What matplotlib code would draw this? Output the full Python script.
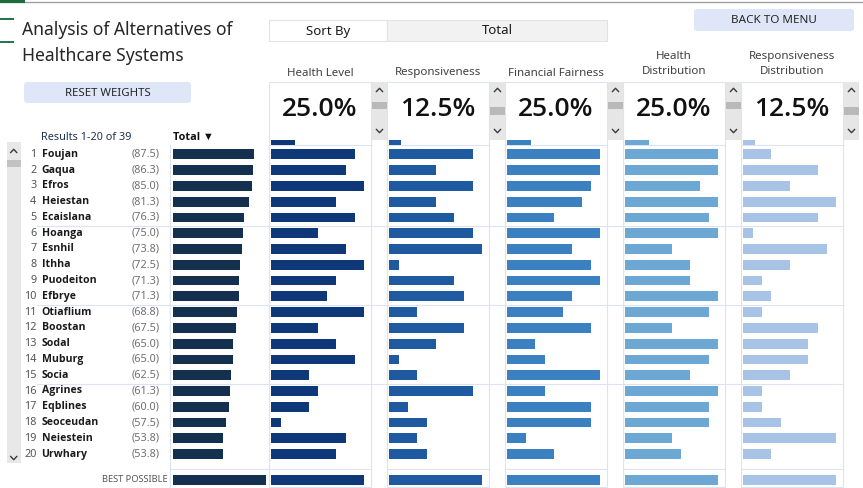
import numpy as np
import matplotlib.pyplot as plt
from matplotlib.patches import Rectangle, FancyBboxPatch

W, H = 863, 488
plt.rcParams['font.family'] = ['Noto Sans', 'DejaVu Sans']
BOLD_FONT = ['Open Sans', 'Liberation Sans', 'DejaVu Sans']

# data (scores 0-10 per criterion, total 0-100)
names = ['Foujan', 'Gaqua', 'Efros', 'Heiestan', 'Ecaislana', 'Hoanga', 'Esnhil', 'Ithha',
         'Puodeiton', 'Efbrye', 'Otiaflium', 'Boostan', 'Sodal', 'Muburg', 'Socia',
         'Agrines', 'Eqblines', 'Seoceudan', 'Neiestein', 'Urwhary']
totals = [87.5, 86.3, 85.0, 81.3, 76.3, 75.0, 73.8, 72.5, 71.3, 71.3,
          68.8, 67.5, 65.0, 65.0, 62.5, 61.3, 60.0, 57.5, 53.8, 53.8]
criteria = ['Health Level', 'Responsiveness', 'Financial Fairness',
            'Health\nDistribution', 'Responsiveness\nDistribution']
weights = [25.0, 12.5, 25.0, 25.0, 12.5]
health_level = [9, 8, 10, 7, 9, 5, 8, 10, 7, 6, 10, 5, 7, 9, 4, 5, 4, 1, 8, 7]
responsiveness = [9, 5, 9, 5, 7, 9, 10, 1, 7, 8, 3, 8, 5, 1, 3, 9, 2, 4, 3, 4]
financial_fairness = [10, 10, 9, 8, 5, 10, 7, 9, 10, 7, 6, 9, 3, 4, 10, 4, 9, 9, 2, 5]
health_distribution = [10, 10, 8, 10, 9, 10, 5, 7, 7, 10, 9, 5, 10, 9, 7, 10, 9, 9, 5, 6]
resp_distribution = [3, 8, 5, 10, 8, 1, 9, 5, 2, 3, 2, 8, 7, 7, 5, 2, 2, 4, 10, 3]
scores = [health_level, responsiveness, financial_fairness, health_distribution, resp_distribution]
best_total = 100
best_score = 10
total_results = 39

TOTAL_COLOR = '#13304f'
COL_COLORS = ['#0e3877', '#1f5aa0', '#3b80c1', '#6da7d3', '#a7c4e6']
GRID = '#dce4f4'

# layout in pixels
ROW0 = 154.3
PITCH = 15.78
BEST_ROW = 20.62
BAR_H = 0.62
COL_X = [269, 387, 505, 623, 741]
BOX_W = 102
BAR_SPAN = 93
AX_TOP, AX_BOT = 138, 488

fig = plt.figure(figsize=(W / 100, H / 100), dpi=100)
bg = fig.add_axes([0, 0, 1, 1])
bg.set_xlim(0, W)
bg.set_ylim(H, 0)
bg.axis('off')


def px_axes(x0, w):
    ax = fig.add_axes([x0 / W, 1 - AX_BOT / H, w / W, (AX_BOT - AX_TOP) / H])
    ax.set_ylim((AX_BOT - ROW0) / PITCH, (AX_TOP - ROW0) / PITCH)
    ax.axis('off')
    ax.patch.set_alpha(0)
    return ax


def row_y(i):
    return ROW0 + PITCH * i


def chevron(x, y, up):
    d = -1 if up else 1
    bg.plot([x - 3.2, x, x + 3.2], [y - 1.7 * d, y + 1.7 * d, y - 1.7 * d],
            color='#3a3a3a', lw=1.0, solid_capstyle='round', zorder=3)


# top strip
bg.plot([0, W], [1.5, 1.5], color='#a0a0a0', lw=1)
bg.plot([0, 23], [1.2, 1.2], color='#1e6b3c', lw=2.2)
for yy in (19.3, 41.7):
    bg.plot([0, 13], [yy, yy], color='#217346', lw=1.4)

# title and buttons
bg.text(22, 30, 'Analysis of Alternatives of', fontsize=12.6, color='#262626', va='center')
bg.text(22, 56, 'Healthcare Systems', fontsize=12.6, color='#262626', va='center')
bg.add_patch(FancyBboxPatch((24, 82), 167, 21, boxstyle='round,pad=0,rounding_size=3',
                            fc='#dee6f7', ec='none'))
bg.text(107.5, 93, 'RESET WEIGHTS', fontsize=8.2, color='#262626', ha='center', va='center')
bg.add_patch(FancyBboxPatch((694, 9), 160, 22, boxstyle='round,pad=0,rounding_size=3',
                            fc='#dee6f7', ec='none'))
bg.text(774, 20.5, 'BACK TO MENU', fontsize=8.4, color='#262626', ha='center', va='center')

bg.add_patch(Rectangle((269, 20), 118, 21, fc='white', ec='#e3e3e3', lw=0.8))
bg.add_patch(Rectangle((387, 20), 220, 21, fc='#f2f2f2', ec='#e3e3e3', lw=0.8))
bg.text(328, 31, 'Sort By', fontsize=9.5, color='#1a1a1a', ha='center', va='center')
bg.text(497, 30.5, 'Total', fontsize=9.5, color='#1a1a1a', ha='center', va='center')

# left list
bg.text(41, 137, f'Results 1-{len(names)} of {total_results}', fontsize=7.8,
        color='#203050', va='center')
bg.text(173, 137, 'Total \u25bc', fontsize=7.8, fontweight='bold', color='#111111',
        va='center', family=BOLD_FONT)
bg.add_patch(Rectangle((6.5, 142), 14.5, 321, fc='#e8e8e8', ec='none'))
bg.add_patch(Rectangle((6.5, 160), 14.5, 7, fc='#c2c2c2', ec='none'))
chevron(13.7, 151, True)
chevron(13.7, 458, False)

for i, (nm, tot) in enumerate(zip(names, totals)):
    y = row_y(i)
    bg.text(36.5, y, str(i + 1), fontsize=7.8, color='#555555', ha='right', va='center')
    bg.text(41.5, y, nm, fontsize=7.6, fontweight='bold', color='#1a1a1a', va='center',
            family=BOLD_FONT)
    bg.text(159.5, y, f'({tot:.1f})', fontsize=7.8, color='#707070', ha='right', va='center')
bg.text(168, row_y(BEST_ROW), 'BEST POSSIBLE', fontsize=6.7, color='#555555',
        ha='right', va='center')

# criterion column boxes
for x0 in COL_X:
    bg.add_patch(Rectangle((x0, 82), BOX_W, 405, fc='white', ec=GRID, lw=0.8, zorder=0))
    bg.plot([x0, x0 + BOX_W], [145, 145], color=GRID, lw=0.8, zorder=1)
    bg.plot([x0, x0 + BOX_W], [469, 469], color=GRID, lw=0.8, zorder=1)

# grid lines
for k in (5, 10, 15):
    yy = row_y(k - 0.5) + 0.4
    bg.plot([37, 843], [yy, yy], color=GRID, lw=0.8, zorder=1)
bg.plot([170, 170], [145, 487], color=GRID, lw=0.8, zorder=1)
bg.plot([170, 269], [469, 469], color=GRID, lw=0.8, zorder=1)

# total column
ax_t = px_axes(173, 93)
ax_t.set_xlim(0, best_total)
ax_t.barh(np.arange(len(names)), totals, height=BAR_H, color=TOTAL_COLOR)
ax_t.barh([BEST_ROW], [best_total], height=BAR_H, color=TOTAL_COLOR)

# criterion columns
for x0, label, w, vals, col in zip(COL_X, criteria, weights, scores, COL_COLORS):
    if '\n' in label:
        bg.text(x0 + BOX_W / 2, 64, label, fontsize=8.3, color='#404040', ha='center',
                va='center', linespacing=1.45)
    else:
        bg.text(x0 + BOX_W / 2, 73, label, fontsize=8.3, color='#404040', ha='center',
                va='center')
    bg.text(x0 + BOX_W / 2, 110, f'{w:.1f}%', fontsize=19, fontweight='semibold',
            color='#111111', ha='center', va='center', family=BOLD_FONT)
    # spinner
    sx = x0 + BOX_W + 1
    bg.add_patch(Rectangle((sx, 82), 15, 58, fc='#e6e6e6', ec='none', zorder=2))
    thumb = 112.7 - 0.44 * w
    bg.add_patch(Rectangle((sx, thumb), 15, 7.5, fc='#b9b9b9', ec='none', zorder=2))
    chevron(sx + 7.5, 90, True)
    chevron(sx + 7.5, 131, False)

    ax = px_axes(x0 + 2.3, BAR_SPAN)
    ax.set_xlim(0, best_score)
    ax.barh(np.arange(len(vals)), vals, height=BAR_H, color=col)
    ax.barh([BEST_ROW], [best_score], height=BAR_H, color=col)
    ax.barh([-0.75], [w / 100 * best_score], height=0.33, color=col)

fig.savefig('out.png', dpi=100)
